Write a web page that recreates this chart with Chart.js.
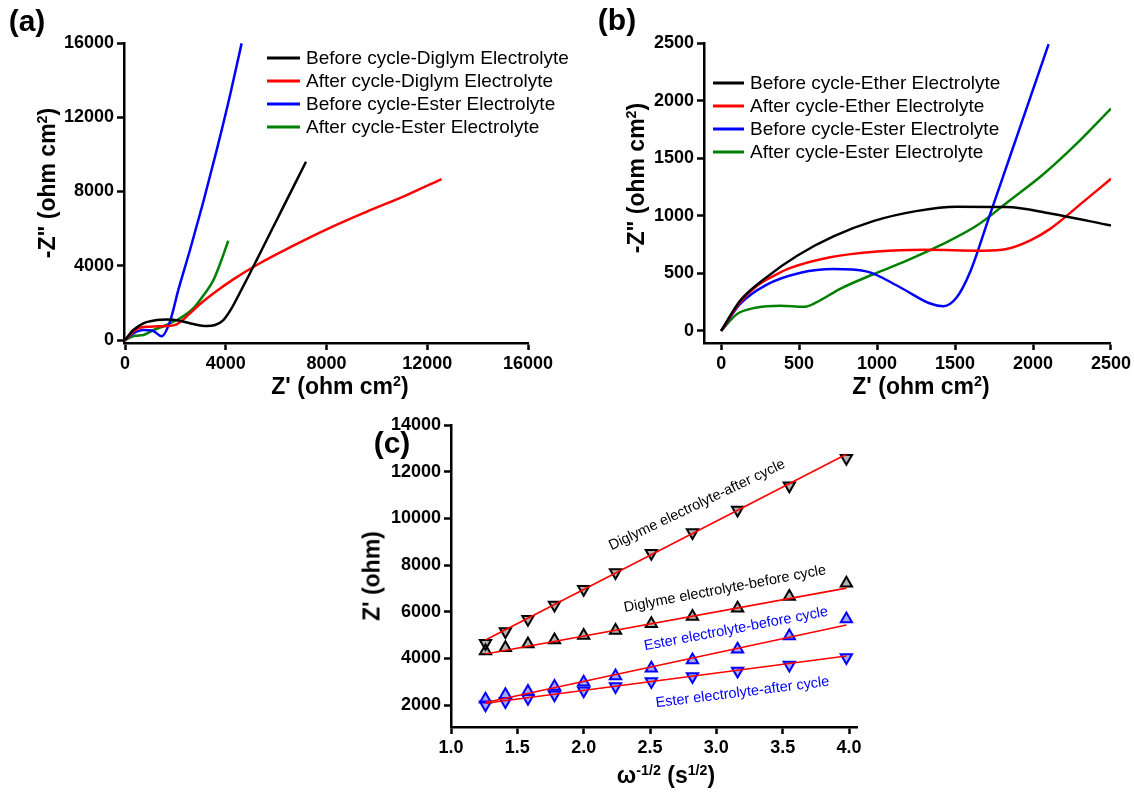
<!DOCTYPE html>
<html>
<head>
<meta charset="utf-8">
<script src="https://cdn.jsdelivr.net/npm/chart.js@4.4.1/dist/chart.umd.min.js"></script>
<style>
    body { margin: 0; width: 1134px; height: 794px; background: #fff; position: relative; overflow: hidden;
           font-family: 'Liberation Sans', Arial, sans-serif; }
    canvas { position: absolute; }
    .txt { position: absolute; white-space: nowrap; line-height: 1; color: #000; font-weight: bold;
           transform: translate(-50%, -50%); }
    .rot { transform: translate(-50%, -50%) rotate(-90deg); }
    .panel { font-size: 30px; }
    .title { font-size: 23px; }
    sup { font-size: 0.62em; vertical-align: 0.55em; line-height: 0; }
</style>
</head>
<body>
<canvas id="chartA" width="600" height="400" style="left:0;top:0"></canvas>
<canvas id="chartB" width="554" height="400" style="left:580px;top:0"></canvas>
<canvas id="chartC" width="540" height="394" style="left:340px;top:400px"></canvas>

<div class="txt panel" style="left:27px;top:21px">(a)</div>
<div class="txt panel" style="left:617px;top:20px">(b)</div>
<div class="txt panel" style="left:392px;top:443px">(c)</div>

<div class="txt title" style="left:340px;top:386px">Z' (ohm cm<sup>2</sup>)</div>
<div class="txt title rot" style="left:47px;top:183px">-Z" (ohm cm<sup>2</sup>)</div>
<div class="txt title" style="left:921px;top:386px">Z' (ohm cm<sup>2</sup>)</div>
<div class="txt title rot" style="left:636px;top:178px">-Z" (ohm cm<sup>2</sup>)</div>
<div class="txt title" style="left:666px;top:775px">&omega;<sup>-1/2</sup> (s<sup>1/2</sup>)</div>
<div class="txt title rot" style="left:372px;top:576px">Z' (ohm)</div>

<script>
// (a) Nyquist - Diglym vs Ester
const aTicks = [0, 4000, 8000, 12000, 16000];
const aBeforeDiglymX = [0, 330, 730, 1260, 1655, 2185, 2715, 3245, 3575, 3905, 4235, 4565, 4895, 5230, 5625, 6020, 6420, 6815, 7185];
const aBeforeDiglymY = [0, 540, 900, 1075, 1110, 1040, 860, 755, 810, 1075, 1720, 2560, 3420, 4320, 5390, 6455, 7535, 8600, 9600];
const aAfterDiglymX = [0, 465, 995, 1655, 2050, 2315, 2980, 3640, 4300, 5230, 6685, 8005, 9595, 11185, 12570];
const aAfterDiglymY = [0, 590, 720, 755, 845, 1110, 1940, 2640, 3265, 4040, 5080, 5960, 6910, 7810, 8670];
const aBeforeEsterX = [0, 330, 730, 1125, 1455, 1785, 2115, 2580, 3110, 3640, 4170, 4630];
const aBeforeEsterY = [0, 360, 540, 485, 200, 990, 2690, 4850, 7450, 10230, 13190, 15980];
const aAfterEsterX = [0, 400, 730, 1130, 1650, 2180, 2710, 3110, 3500, 3800, 4100];
const aAfterEsterY = [0, 230, 270, 540, 810, 1170, 1700, 2400, 3200, 4200, 5350];

// (b) Nyquist - Ether vs Ester (zoom)
const bTicks = [0, 500, 1000, 1500, 2000, 2500];
const bBeforeEtherX = [0, 120, 290, 490, 720, 980, 1250, 1510, 1830, 2110, 2500];
const bBeforeEtherY = [0, 260, 465, 655, 820, 955, 1040, 1078, 1075, 1020, 915];
const bAfterEtherX = [0, 120, 230, 340, 440, 700, 1000, 1300, 1680, 1830, 1980, 2110, 2320, 2500];
const bAfterEtherY = [0, 247, 392, 480, 545, 640, 690, 705, 697, 711, 784, 886, 1118, 1321];
const bBeforeEsterX = [0, 120, 290, 510, 720, 930, 1150, 1340, 1425, 1510, 1600, 1720, 1850, 1980, 2100];
const bBeforeEsterY = [0, 232, 400, 505, 537, 517, 377, 238, 215, 290, 523, 995, 1506, 2017, 2490];
const bAfterEsterX = [0, 100, 230, 380, 530, 610, 760, 980, 1190, 1400, 1640, 1850, 2070, 2280, 2500];
const bAfterEsterY = [0, 145, 203, 218, 209, 247, 363, 494, 610, 740, 915, 1132, 1365, 1626, 1931];

// (c) Z' vs omega^-1/2
const cTicksX = [1.0, 1.5, 2.0, 2.5, 3.0, 3.5, 4.0];
const cTicksY = [2000, 4000, 6000, 8000, 10000, 12000, 14000];
const omegaInvSqrt = [1.26, 1.41, 1.58, 1.78, 2.00, 2.24, 2.51, 2.82, 3.16, 3.55, 3.98];
const diglymeAfter = [4650, 5150, 5680, 6290, 6960, 7680, 8500, 9390, 10360, 11400, 12570];
const diglymeBefore = [4320, 4460, 4620, 4790, 4980, 5190, 5480, 5790, 6150, 6650, 7220];
const esterBefore = [2250, 2440, 2580, 2790, 2980, 3250, 3580, 3930, 4390, 4960, 5690];
const esterAfter = [2010, 2150, 2290, 2440, 2610, 2790, 3010, 3220, 3460, 3720, 4040];
const fitX = [1.26, 3.98];
const fitDiglymeAfter = [4790, 12750];
const fitDiglymeBefore = [4190, 7010];
const fitEsterBefore = [2110, 5430];
const fitEsterAfter = [2080, 4100];

Chart.defaults.font.family = "'Liberation Sans', Arial, sans-serif";
Chart.defaults.color = '#000';

function pts(xs, ys) {
    return xs.map((x, i) => ({ x: x, y: ys[i] }));
}

function makeScale(min, max, tickValues, fit, format) {
    return {
        type: 'linear',
        min: min,
        max: max,
        afterBuildTicks: s => { s.ticks = tickValues.map(v => ({ value: v })); },
        afterFit: fit,
        border: { display: true, color: '#000', width: 2.5 },
        grid: { display: true, drawOnChartArea: false, drawTicks: true, tickLength: 7, tickWidth: 2.5, tickColor: '#000' },
        ticks: {
            color: '#000',
            font: { size: 18, weight: 'bold' },
            padding: 3,
            autoSkip: false,
            maxRotation: 0,
            callback: format || (v => String(v))
        }
    };
}

function curve(label, color, xs, ys) {
    return {
        label: label,
        data: pts(xs, ys),
        showLine: true,
        borderColor: color,
        backgroundColor: color,
        borderWidth: 2.5,
        pointRadius: 0,
        cubicInterpolationMode: 'monotone',
        fill: false
    };
}

// leyenda propia dibujada dentro del area
const panelLegend = {
    id: 'panelLegend',
    afterDatasetsDraw(chart, args, opts) {
        const ctx = chart.ctx;
        ctx.save();
        ctx.font = opts.font;
        ctx.textBaseline = 'middle';
        chart.data.datasets.forEach((ds, i) => {
            const y = opts.y + i * opts.rowHeight;
            ctx.strokeStyle = ds.borderColor;
            ctx.lineWidth = 3;
            ctx.beginPath();
            ctx.moveTo(opts.x, y);
            ctx.lineTo(opts.x + opts.lineLength, y);
            ctx.stroke();
            ctx.fillStyle = '#000';
            ctx.fillText(ds.label, opts.x + opts.lineLength + opts.gap, y + 1);
        });
        ctx.restore();
    }
};

// etiquetas inclinadas junto a cada recta
const slopeLabels = {
    id: 'slopeLabels',
    afterDatasetsDraw(chart, args, opts) {
        const ctx = chart.ctx;
        const xs = chart.scales.x, ys = chart.scales.y;
        ctx.save();
        ctx.font = opts.font;
        ctx.textAlign = 'center';
        ctx.textBaseline = 'middle';
        opts.items.forEach(item => {
            ctx.save();
            ctx.translate(xs.getPixelForValue(item.x), ys.getPixelForValue(item.y));
            ctx.rotate(item.angle * Math.PI / 180);
            ctx.fillStyle = item.color;
            ctx.fillText(item.text, 0, 0);
            ctx.restore();
        });
        ctx.restore();
    }
};

const basePlugins = { legend: { display: false }, tooltip: { enabled: false } };

new Chart(document.getElementById('chartA'), {
    type: 'scatter',
    data: {
        datasets: [
            curve('Before cycle-Diglym Electrolyte', '#000000', aBeforeDiglymX, aBeforeDiglymY),
            curve('After cycle-Diglym Electrolyte', '#ff0000', aAfterDiglymX, aAfterDiglymY),
            curve('Before cycle-Ester Electrolyte', '#0000ff', aBeforeEsterX, aBeforeEsterY),
            curve('After cycle-Ester Electrolyte', '#008000', aAfterEsterX, aAfterEsterY)
        ]
    },
    options: {
        responsive: false,
        animation: false,
        layout: { padding: { left: 0, top: 43, right: 72, bottom: 0 } },
        scales: {
            x: makeScale(-40, 16000, aTicks, s => { s.height = 57; }),
            y: makeScale(-160, 16000, aTicks, s => { s.width = 124; })
        },
        plugins: Object.assign({}, basePlugins, {
            panelLegend: { x: 267, y: 58, rowHeight: 23, lineLength: 33, gap: 6, font: '19px "Liberation Sans", Arial, sans-serif' }
        })
    },
    plugins: [panelLegend]
});

new Chart(document.getElementById('chartB'), {
    type: 'scatter',
    data: {
        datasets: [
            curve('Before cycle-Ether Electrolyte', '#000000', bBeforeEtherX, bBeforeEtherY),
            curve('After cycle-Ether Electrolyte', '#ff0000', bAfterEtherX, bAfterEtherY),
            curve('Before cycle-Ester Electrolyte', '#0000ff', bBeforeEsterX, bBeforeEsterY),
            curve('After cycle-Ester Electrolyte', '#008000', bAfterEsterX, bAfterEsterY)
        ]
    },
    options: {
        responsive: false,
        animation: false,
        layout: { padding: { left: 0, top: 43, right: 23, bottom: 0 } },
        scales: {
            x: makeScale(-110, 2500, bTicks, s => { s.height = 57; }),
            y: makeScale(-105, 2500, bTicks, s => { s.width = 124; })
        },
        plugins: Object.assign({}, basePlugins, {
            panelLegend: { x: 133, y: 83, rowHeight: 23, lineLength: 31, gap: 6, font: '19px "Liberation Sans", Arial, sans-serif' }
        })
    },
    plugins: [panelLegend]
});

function markers(values, color, fillColor, down) {
    return {
        data: pts(omegaInvSqrt, values),
        showLine: false,
        pointStyle: 'triangle',
        rotation: down ? 180 : 0,
        pointRadius: 6.5,
        borderWidth: 2,
        borderColor: color,
        backgroundColor: fillColor,
        order: 1
    };
}

function fitLine(values) {
    return {
        data: pts(fitX, values),
        showLine: true,
        borderColor: '#ff0000',
        borderWidth: 1.6,
        pointRadius: 0,
        order: 0
    };
}

new Chart(document.getElementById('chartC'), {
    type: 'scatter',
    data: {
        datasets: [
            markers(diglymeAfter, '#000000', 'rgba(0,0,0,0.3)', true),
            markers(diglymeBefore, '#000000', 'rgba(0,0,0,0.3)', false),
            markers(esterBefore, '#0000ff', 'rgba(0,0,255,0.35)', false),
            markers(esterAfter, '#0000ff', 'rgba(0,0,255,0.35)', true),
            fitLine(fitDiglymeAfter),
            fitLine(fitDiglymeBefore),
            fitLine(fitEsterBefore),
            fitLine(fitEsterAfter)
        ]
    },
    options: {
        responsive: false,
        animation: false,
        layout: { padding: { left: 0, top: 25, right: 23, bottom: 0 } },
        scales: {
            x: makeScale(1.0, 4.06, cTicksX, s => { s.height = 67; }, v => v.toFixed(1)),
            y: makeScale(1060, 14000, cTicksY, s => { s.width = 111; })
        },
        plugins: Object.assign({}, basePlugins, {
            slopeLabels: {
                font: '14.5px "Liberation Sans", Arial, sans-serif',
                items: [
                    { text: 'Diglyme electrolyte-after cycle', x: 2.854, y: 10570, angle: -25.5, color: '#000000' },
                    { text: 'Diglyme electrolyte-before cycle', x: 3.065, y: 6970, angle: -10.7, color: '#000000' },
                    { text: 'Ester electrolyte-before cycle', x: 3.148, y: 5260, angle: -10.7, color: '#0000ff' },
                    { text: 'Ester electrolyte-after cycle', x: 3.197, y: 2540, angle: -7.1, color: '#0000ff' }
                ]
            }
        })
    },
    plugins: [slopeLabels]
});
</script>
</body>
</html>
